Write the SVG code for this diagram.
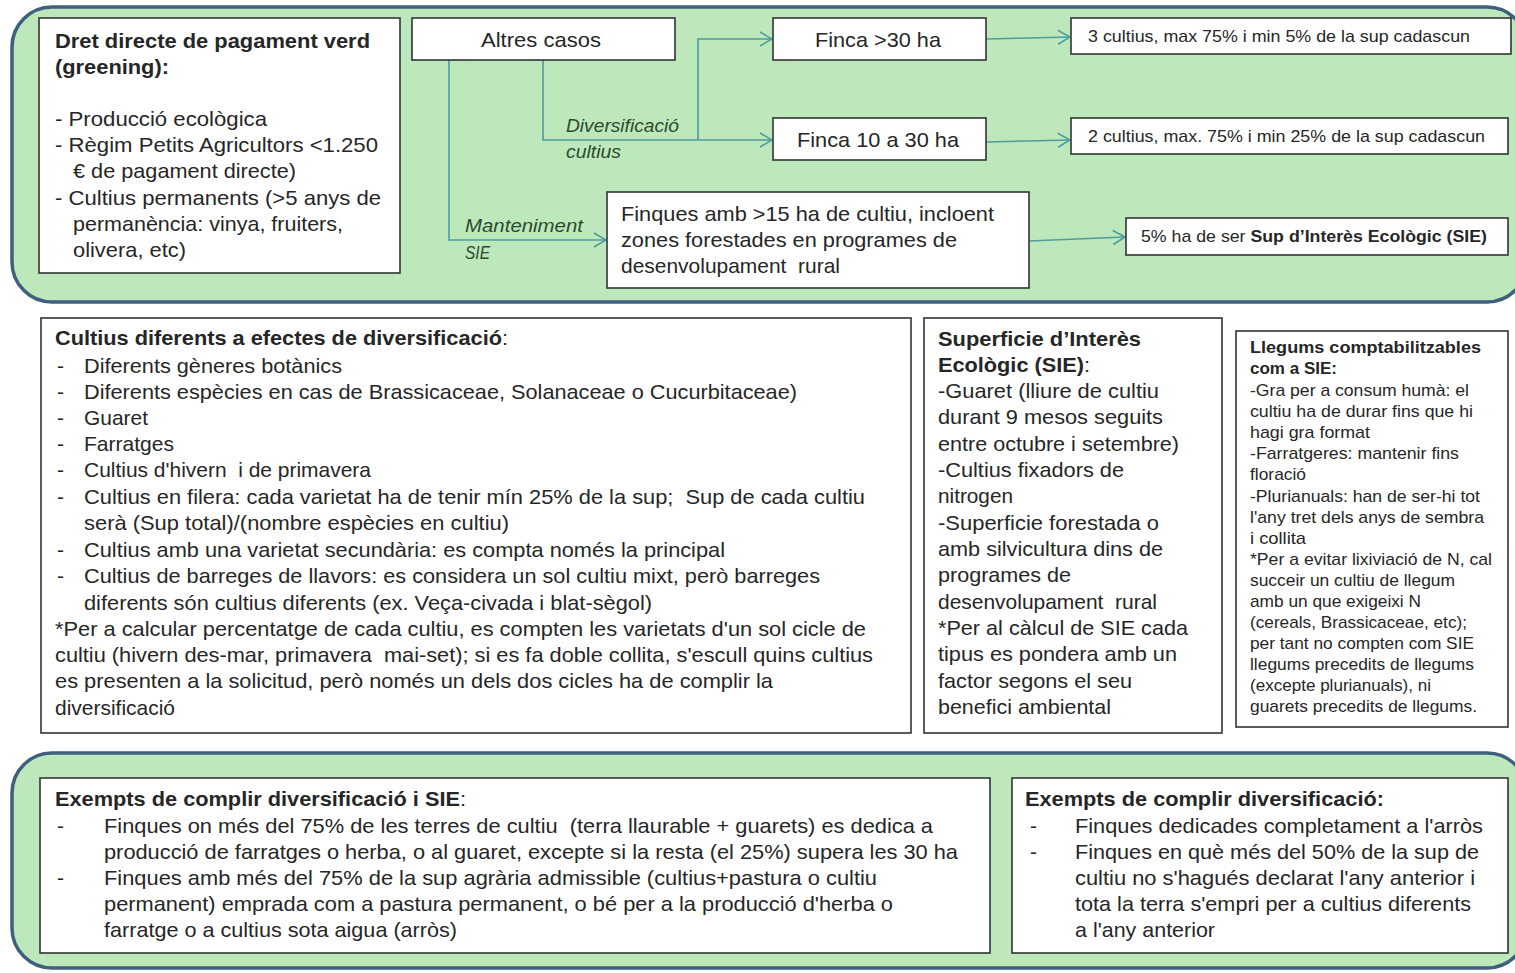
<svg xmlns="http://www.w3.org/2000/svg" width="1515" height="973" viewBox="0 0 1515 973">
<defs>
<style>
.panel{fill:#bce8bc;stroke:#3e5f7e;stroke-width:3.5}
.box{fill:#fff;stroke:#333;stroke-width:1.6}
.t{font-family:"Liberation Sans",Arial,sans-serif;fill:#262626}
.f21{font-size:21px}
.f17{font-size:17px}
.b{font-weight:bold}
.lbl{font-family:"Liberation Sans",Arial,sans-serif;font-size:18px;font-style:italic;fill:#2e4a2e}
.con{fill:none;stroke:#4f9c9e;stroke-width:1.6}
text{white-space:pre}
</style>
<marker id="arr" markerUnits="userSpaceOnUse" markerWidth="14" markerHeight="16" refX="13" refY="8" orient="auto">
<path d="M1,1 L13,8 L1,15" fill="none" stroke="#4f9c9e" stroke-width="1.6"/>
</marker>
</defs>
<rect width="1515" height="973" fill="#fff"/>

<g id="panel-top"><rect class="panel" x="12" y="7" width="1515" height="295" rx="40"/></g>
<g id="panel-bottom"><rect class="panel" x="12" y="753" width="1515" height="215" rx="40"/></g>

<g id="connectors">
<path class="con" d="M449,60 V240 H606" marker-end="url(#arr)"/>
<path class="con" d="M543,60 V140 H772" marker-end="url(#arr)"/>
<path class="con" d="M698,140 V39 H772" marker-end="url(#arr)"/>
<path class="con" d="M986,39 L1070,37" marker-end="url(#arr)"/>
<path class="con" d="M986,142 L1070,140" marker-end="url(#arr)"/>
<path class="con" d="M1029,241 L1125,237" marker-end="url(#arr)"/>
<text class="lbl" x="566" y="132" textLength="113" lengthAdjust="spacingAndGlyphs">Diversificació</text>
<text class="lbl" x="566" y="158" textLength="55" lengthAdjust="spacingAndGlyphs">cultius</text>
<text class="lbl" x="465" y="232" textLength="118" lengthAdjust="spacingAndGlyphs">Manteniment</text>
<text class="lbl" x="465" y="259" textLength="25" lengthAdjust="spacingAndGlyphs">SIE</text>
</g>

<g id="greening">
<rect class="box" x="39" y="18" width="361" height="255"/>
<g class="t f21" lengthAdjust="spacingAndGlyphs">
<text class="b" x="55" y="48" textLength="315" lengthAdjust="spacingAndGlyphs">Dret directe de pagament verd</text>
<text class="b" x="55" y="74" textLength="114" lengthAdjust="spacingAndGlyphs">(greening):</text>
<text x="55" y="126" textLength="212" lengthAdjust="spacingAndGlyphs">- Producció ecològica</text>
<text x="55" y="152" textLength="323" lengthAdjust="spacingAndGlyphs">- Règim Petits Agricultors &lt;1.250</text>
<text x="73" y="178" textLength="223" lengthAdjust="spacingAndGlyphs">€ de pagament directe)</text>
<text x="55" y="205" textLength="326" lengthAdjust="spacingAndGlyphs">- Cultius permanents (&gt;5 anys de</text>
<text x="73" y="231" textLength="270" lengthAdjust="spacingAndGlyphs">permanència: vinya, fruiters,</text>
<text x="73" y="257" textLength="113" lengthAdjust="spacingAndGlyphs">olivera, etc)</text>
</g>
</g>

<g id="altres">
<rect class="box" x="412" y="18" width="263" height="42"/>
<text class="t f21" x="541" y="47" text-anchor="middle" textLength="120" lengthAdjust="spacingAndGlyphs">Altres casos</text>
</g>

<g id="finca30">
<rect class="box" x="773" y="18" width="213" height="42"/>
<text class="t f21" x="878" y="47" text-anchor="middle" textLength="126" lengthAdjust="spacingAndGlyphs">Finca &gt;30 ha</text>
</g>

<g id="finca1030">
<rect class="box" x="773" y="118" width="213" height="42"/>
<text class="t f21" x="878" y="147" text-anchor="middle" textLength="162" lengthAdjust="spacingAndGlyphs">Finca 10 a 30 ha</text>
</g>

<g id="finques15">
<rect class="box" x="607" y="192" width="422" height="96"/>
<text class="t f21" x="621" y="221" textLength="373" lengthAdjust="spacingAndGlyphs">Finques amb &gt;15 ha de cultiu, incloent</text>
<text class="t f21" x="621" y="247" textLength="336" lengthAdjust="spacingAndGlyphs">zones forestades en programes de</text>
<text class="t f21" x="621" y="273" textLength="219" lengthAdjust="spacingAndGlyphs">desenvolupament  rural</text>
</g>

<g id="cultius3">
<rect class="box" x="1071" y="18" width="440" height="36"/>
<text class="t f17" x="1088" y="42" textLength="382" lengthAdjust="spacingAndGlyphs">3 cultius, max 75% i min 5% de la sup cadascun</text>
</g>

<g id="cultius2">
<rect class="box" x="1071" y="118" width="437" height="36"/>
<text class="t f17" x="1088" y="142" textLength="397" lengthAdjust="spacingAndGlyphs">2 cultius, max. 75% i min 25% de la sup cadascun</text>
</g>

<g id="sie5">
<rect class="box" x="1126" y="218" width="382" height="37"/>
<text class="t f17" x="1141" y="242" textLength="346" lengthAdjust="spacingAndGlyphs">5% ha de ser <tspan class="b">Sup d’Interès Ecològic (SIE)</tspan></text>
</g>

<g id="cultius-diferents">
<rect class="box" x="41" y="318" width="870" height="415"/>
<g class="t f21">
<text x="55" y="345" textLength="453" lengthAdjust="spacingAndGlyphs"><tspan class="b">Cultius diferents a efectes de diversificació</tspan>:</text>
<text x="57" y="373">-</text><text x="84" y="373" textLength="258" lengthAdjust="spacingAndGlyphs">Diferents gèneres botànics</text>
<text x="57" y="399">-</text><text x="84" y="399" textLength="713" lengthAdjust="spacingAndGlyphs">Diferents espècies en cas de Brassicaceae, Solanaceae o Cucurbitaceae)</text>
<text x="57" y="425">-</text><text x="84" y="425" textLength="64" lengthAdjust="spacingAndGlyphs">Guaret</text>
<text x="57" y="451">-</text><text x="84" y="451" textLength="90" lengthAdjust="spacingAndGlyphs">Farratges</text>
<text x="57" y="477">-</text><text x="84" y="477" textLength="287" lengthAdjust="spacingAndGlyphs">Cultius d'hivern  i de primavera</text>
<text x="57" y="504">-</text><text x="84" y="504" textLength="781" lengthAdjust="spacingAndGlyphs">Cultius en filera: cada varietat ha de tenir mín 25% de la sup;  Sup de cada cultiu</text>
<text x="84" y="530" textLength="425" lengthAdjust="spacingAndGlyphs">serà (Sup total)/(nombre espècies en cultiu)</text>
<text x="57" y="557">-</text><text x="84" y="557" textLength="641" lengthAdjust="spacingAndGlyphs">Cultius amb una varietat secundària: es compta només la principal</text>
<text x="57" y="583">-</text><text x="84" y="583" textLength="736" lengthAdjust="spacingAndGlyphs">Cultius de barreges de llavors: es considera un sol cultiu mixt, però barreges</text>
<text x="84" y="610" textLength="568" lengthAdjust="spacingAndGlyphs">diferents són cultius diferents (ex. Veça-civada i blat-sègol)</text>
<text x="55" y="636" textLength="811" lengthAdjust="spacingAndGlyphs">*Per a calcular percentatge de cada cultiu, es compten les varietats d'un sol cicle de</text>
<text x="55" y="662" textLength="818" lengthAdjust="spacingAndGlyphs">cultiu (hivern des-mar, primavera  mai-set); si es fa doble collita, s'escull quins cultius</text>
<text x="55" y="688" textLength="718" lengthAdjust="spacingAndGlyphs">es presenten a la solicitud, però només un dels dos cicles ha de complir la</text>
<text x="55" y="715" textLength="120" lengthAdjust="spacingAndGlyphs">diversificació</text>
</g>
</g>

<g id="sie">
<rect class="box" x="924" y="318" width="298" height="415"/>
<g class="t f21">
<text x="938" y="346" class="b" textLength="203" lengthAdjust="spacingAndGlyphs">Superficie d’Interès</text>
<text x="938" y="372" textLength="152" lengthAdjust="spacingAndGlyphs"><tspan class="b">Ecològic (SIE)</tspan>:</text>
<text x="938" y="398" textLength="221" lengthAdjust="spacingAndGlyphs">-Guaret (lliure de cultiu</text>
<text x="938" y="424" textLength="225" lengthAdjust="spacingAndGlyphs">durant 9 mesos seguits</text>
<text x="938" y="451" textLength="241" lengthAdjust="spacingAndGlyphs">entre octubre i setembre)</text>
<text x="938" y="477" textLength="186" lengthAdjust="spacingAndGlyphs">-Cultius fixadors de</text>
<text x="938" y="503" textLength="75" lengthAdjust="spacingAndGlyphs">nitrogen</text>
<text x="938" y="530" textLength="221" lengthAdjust="spacingAndGlyphs">-Superficie forestada o</text>
<text x="938" y="556" textLength="225" lengthAdjust="spacingAndGlyphs">amb silvicultura dins de</text>
<text x="938" y="582" textLength="133" lengthAdjust="spacingAndGlyphs">programes de</text>
<text x="938" y="609" textLength="219" lengthAdjust="spacingAndGlyphs">desenvolupament  rural</text>
<text x="938" y="635" textLength="250" lengthAdjust="spacingAndGlyphs">*Per al càlcul de SIE cada</text>
<text x="938" y="661" textLength="239" lengthAdjust="spacingAndGlyphs">tipus es pondera amb un</text>
<text x="938" y="688" textLength="194" lengthAdjust="spacingAndGlyphs">factor segons el seu</text>
<text x="938" y="714" textLength="173" lengthAdjust="spacingAndGlyphs">benefici ambiental</text>
</g>
</g>

<g id="llegums">
<rect class="box" x="1236" y="331" width="272" height="396"/>
<g class="t f17">
<text x="1250" y="353" class="b" textLength="231" lengthAdjust="spacingAndGlyphs">Llegums comptabilitzables</text>
<text x="1250" y="374" class="b" textLength="87" lengthAdjust="spacingAndGlyphs">com a SIE:</text>
<text x="1250" y="396" textLength="219" lengthAdjust="spacingAndGlyphs">-Gra per a consum humà: el</text>
<text x="1250" y="417" textLength="223" lengthAdjust="spacingAndGlyphs">cultiu ha de durar fins que hi</text>
<text x="1250" y="438" textLength="120" lengthAdjust="spacingAndGlyphs">hagi gra format</text>
<text x="1250" y="459" textLength="209" lengthAdjust="spacingAndGlyphs">-Farratgeres: mantenir fins</text>
<text x="1250" y="480" textLength="56" lengthAdjust="spacingAndGlyphs">floració</text>
<text x="1250" y="502" textLength="230" lengthAdjust="spacingAndGlyphs">-Plurianuals: han de ser-hi tot</text>
<text x="1250" y="523" textLength="234" lengthAdjust="spacingAndGlyphs">l'any tret dels anys de sembra</text>
<text x="1250" y="544" textLength="56" lengthAdjust="spacingAndGlyphs">i collita</text>
<text x="1250" y="565" textLength="242" lengthAdjust="spacingAndGlyphs">*Per a evitar lixiviació de N, cal</text>
<text x="1250" y="586" textLength="205" lengthAdjust="spacingAndGlyphs">succeir un cultiu de llegum</text>
<text x="1250" y="607" textLength="171" lengthAdjust="spacingAndGlyphs">amb un que exigeixi N</text>
<text x="1250" y="628" textLength="217" lengthAdjust="spacingAndGlyphs">(cereals, Brassicaceae, etc);</text>
<text x="1250" y="649" textLength="224" lengthAdjust="spacingAndGlyphs">per tant no compten com SIE</text>
<text x="1250" y="670" textLength="224" lengthAdjust="spacingAndGlyphs">llegums precedits de llegums</text>
<text x="1250" y="691" textLength="181" lengthAdjust="spacingAndGlyphs">(excepte plurianuals), ni</text>
<text x="1250" y="712" textLength="227" lengthAdjust="spacingAndGlyphs">guarets precedits de llegums.</text>
</g>
</g>

<g id="exempts-sie">
<rect class="box" x="40" y="778" width="950" height="175"/>
<g class="t f21">
<text x="55" y="806" textLength="411" lengthAdjust="spacingAndGlyphs"><tspan class="b">Exempts de complir diversificació i SIE</tspan>:</text>
<text x="57" y="833">-</text>
<text x="104" y="833" textLength="829" lengthAdjust="spacingAndGlyphs">Finques on més del 75% de les terres de cultiu  (terra llaurable + guarets) es dedica a</text>
<text x="104" y="859" textLength="854" lengthAdjust="spacingAndGlyphs">producció de farratges o herba, o al guaret, excepte si la resta (el 25%) supera les 30 ha</text>
<text x="57" y="885">-</text>
<text x="104" y="885" textLength="773" lengthAdjust="spacingAndGlyphs">Finques amb més del 75% de la sup agrària admissible (cultius+pastura o cultiu</text>
<text x="104" y="911" textLength="789" lengthAdjust="spacingAndGlyphs">permanent) emprada com a pastura permanent, o bé per a la producció d'herba o</text>
<text x="104" y="937" textLength="353" lengthAdjust="spacingAndGlyphs">farratge o a cultius sota aigua (arròs)</text>
</g>
</g>

<g id="exempts-div">
<rect class="box" x="1012" y="778" width="496" height="175"/>
<g class="t f21">
<text x="1025" y="806" class="b" textLength="359" lengthAdjust="spacingAndGlyphs">Exempts de complir diversificació:</text>
<text x="1030" y="833">-</text><text x="1075" y="833" textLength="408" lengthAdjust="spacingAndGlyphs">Finques dedicades completament a l'arròs</text>
<text x="1030" y="859">-</text><text x="1075" y="859" textLength="404" lengthAdjust="spacingAndGlyphs">Finques en què més del 50% de la sup de</text>
<text x="1075" y="885" textLength="400" lengthAdjust="spacingAndGlyphs">cultiu no s'hagués declarat l'any anterior i</text>
<text x="1075" y="911" textLength="396" lengthAdjust="spacingAndGlyphs">tota la terra s'empri per a cultius diferents</text>
<text x="1075" y="937" textLength="140" lengthAdjust="spacingAndGlyphs">a l'any anterior</text>
</g>
</g>
</svg>
